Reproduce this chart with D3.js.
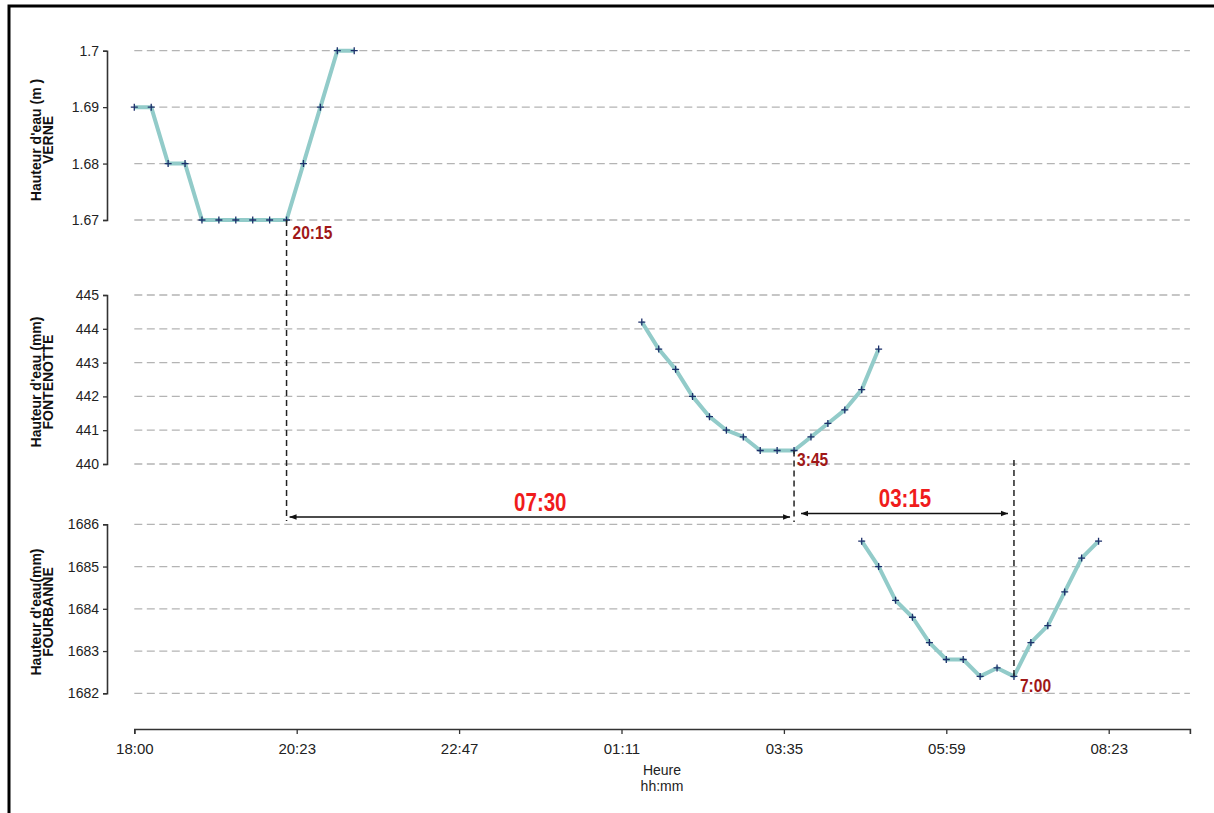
<!DOCTYPE html>
<html><head><meta charset="utf-8">
<script src="https://cdn.jsdelivr.net/npm/d3@7"></script>
<style>body{margin:0;background:#fff}svg{display:block}</style>
</head><body><svg id="c" width="1214" height="813"></svg>
<script>
// ---- data ----
const verneTimes = ["18:00","18:15","18:30","18:45","19:00","19:15","19:30","19:45","20:00","20:15","20:30","20:45","21:00","21:15"];
const verneValues = [1.69,1.69,1.68,1.68,1.67,1.67,1.67,1.67,1.67,1.67,1.68,1.69,1.70,1.70];
const fontTimes = ["01:30","01:45","02:00","02:15","02:30","02:45","03:00","03:15","03:30","03:45","04:00","04:15","04:30","04:45","05:00"];
const fontValues = [444.2,443.4,442.8,442.0,441.4,441.0,440.8,440.4,440.4,440.4,440.8,441.2,441.6,442.2,443.4];
const fourTimes = ["04:45","05:00","05:15","05:30","05:45","06:00","06:15","06:30","06:45","07:00","07:15","07:30","07:45","08:00","08:15"];
const fourValues = [1685.6,1685.0,1684.2,1683.8,1683.2,1682.8,1682.8,1682.4,1682.6,1682.4,1683.2,1683.6,1684.4,1685.2,1685.6];
const xTickLabels = ["18:00","20:23","22:47","01:11","03:35","05:59","08:23"];
const verneTicks = [1.67,1.68,1.69,1.70];
const verneTickLabels = ["1.67","1.68","1.69","1.7"];
const fontTicks = [440,441,442,443,444,445];
const fourTicks = [1682,1683,1684,1685,1686];
const markTimes = ["20:15","03:45","07:00"];
const spanLabels = ["07:30","03:15"];

// ---- helpers ----
function toDate(s){const [h,m]=s.split(":").map(Number);return new Date(Date.UTC(2000,0,h<12?2:1,h,m));}
const svg=d3.select("#c");
const F="'Liberation Sans', Arial, sans-serif";
const x=d3.scaleTime().domain([toDate("18:00"),toDate("09:36")]).range([134.3,1189.9]);
const tickDates=xTickLabels.map((l,i)=>new Date(toDate("18:00").getTime()+i*144*60000));

// frame
svg.append("path").attr("d","M9,813V6H1214").attr("fill","none").attr("stroke","#000").attr("stroke-width",3);

const panels=[
 {times:verneTimes,vals:verneValues,dom:[1.67,1.70],rng:[220,50.7],ticks:verneTicks,labels:verneTickLabels,t1:"Hauteur d'eau (m )",t2:"VERNE",cy:140},
 {times:fontTimes,vals:fontValues,dom:[440,445],rng:[464,295],ticks:fontTicks,labels:fontTicks.map(String),t1:"Hauteur d'eau (mm)",t2:"FONTENOTTE",cy:382},
 {times:fourTimes,vals:fourValues,dom:[1682,1686],rng:[693.3,524.3],ticks:fourTicks,labels:fourTicks.map(String),t1:"Hauteur d'eau(mm)",t2:"FOURBANNE",cy:612}
];
panels.forEach(p=>{
  const y=d3.scaleLinear().domain(p.dom).range(p.rng);
  p.y=y;
  // grid
  svg.append("g").selectAll("line").data(p.ticks).join("line")
    .attr("x1",x.range()[0]).attr("x2",x.range()[1])
    .attr("y1",d=>y(d)).attr("y2",d=>y(d))
    .attr("stroke","#b4b4b4").attr("stroke-width",1.3).attr("stroke-dasharray","8,4.5");
  // axis
  const ax=svg.append("g").attr("transform","translate(107,0)")
    .call(d3.axisLeft(y).tickValues(p.ticks).tickFormat((d,i)=>p.labels[i]).tickSizeOuter(0).tickSize(4).tickPadding(4));
  ax.select(".domain").attr("stroke","#333").attr("stroke-width",1.6);
  ax.selectAll(".tick line").attr("stroke","#333").attr("stroke-width",1.3);
  ax.selectAll("text").attr("font-family",F).attr("font-size",14).attr("fill","#222");
  // titles
  const g=svg.append("g").attr("font-family",F).attr("font-weight","bold").attr("font-size",14).attr("fill","#111").attr("text-anchor","middle");
  g.append("text").attr("transform",`translate(41,${p.cy}) rotate(-90)`).text(p.t1);
  g.append("text").attr("transform",`translate(53,${p.cy}) rotate(-90)`).text(p.t2);
  // line
  const pts=p.times.map((t,i)=>[x(toDate(t)),y(p.vals[i])]);
  svg.append("path").attr("d",d3.line()(pts)).attr("fill","none").attr("stroke","#92cbc9").attr("stroke-width",4).attr("stroke-linejoin","round");
  svg.append("g").selectAll("path").data(pts).join("path")
    .attr("d",d=>`M${d[0]-3.5},${d[1]}H${d[0]+3.5}M${d[0]},${d[1]-3.5}V${d[1]+3.5}`)
    .attr("stroke","#1c2f6a").attr("stroke-width",1.3);
});

// x axis
const xa=svg.append("g").attr("transform","translate(0,729)")
  .call(d3.axisBottom(x).tickValues(tickDates).tickFormat((d,i)=>xTickLabels[i]).tickSizeOuter(0).tickSize(5).tickPadding(9));
xa.select(".domain").attr("stroke","#333").attr("stroke-width",1.6);
xa.selectAll(".tick line").attr("stroke","#333").attr("stroke-width",1.3);
xa.selectAll("text").attr("font-family",F).attr("font-size",15).attr("fill","#222");
svg.append("text").attr("x",662).attr("y",775).attr("text-anchor","middle").attr("font-family",F).attr("font-size",14).attr("fill","#222").text("Heure");
svg.append("text").attr("x",662).attr("y",791).attr("text-anchor","middle").attr("font-family",F).attr("font-size",14).attr("fill","#222").text("hh:mm");

// annotations
const [p0,p1,p2]=panels;
const mx=markTimes.map(t=>x(toDate(t)));
const dash=(xx,y1,y2)=>svg.append("line").attr("x1",xx).attr("x2",xx).attr("y1",y1).attr("y2",y2)
  .attr("stroke","#222").attr("stroke-width",1.5).attr("stroke-dasharray","6,4");
dash(mx[0],p0.y(1.67),521);
dash(mx[1],p1.y(440.4),522);
dash(mx[2],460,p2.y(1682.4));
const lab=(xx,yy,t,col,fs,anchor)=>svg.append("text").attr("transform",`translate(${xx},${yy}) scale(0.82,1)`)
  .attr("text-anchor",anchor).attr("font-family",F).attr("font-weight","bold").attr("font-size",fs).attr("fill",col).text(t);
lab(mx[0]+6,239,markTimes[0],"#a01818",19,"start");
lab(mx[1]+3,466,markTimes[1].replace(/^0/,""),"#a01818",19,"start");
lab(mx[2]+6,692,markTimes[2].replace(/^0/,""),"#a01818",19,"start");

const defs=svg.append("defs");
defs.append("marker").attr("id","ah").attr("viewBox","0 0 10 10").attr("refX",10).attr("refY",5)
  .attr("markerWidth",7).attr("markerHeight",7).attr("orient","auto-start-reverse").attr("markerUnits","userSpaceOnUse")
  .append("path").attr("d","M0,1L10,5L0,9Z").attr("fill","#111");
const arrow=(x1,x2,yy)=>svg.append("line").attr("x1",x1).attr("x2",x2).attr("y1",yy).attr("y2",yy)
  .attr("stroke","#111").attr("stroke-width",1.6).attr("marker-start","url(#ah)").attr("marker-end","url(#ah)");
arrow(mx[0]+3,mx[1]-4,517);
arrow(mx[1]+7,mx[2]-6,513.5);
lab((mx[0]+mx[1])/2,511,spanLabels[0],"#f01c1c",25,"middle");
lab((mx[1]+mx[2])/2+1,507,spanLabels[1],"#f01c1c",25,"middle");
</script></body></html>
